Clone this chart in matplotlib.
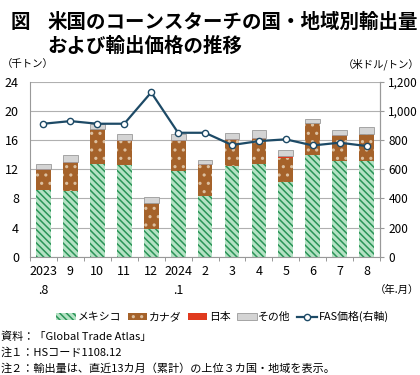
import numpy as np
import matplotlib
matplotlib.use("Agg")
from matplotlib import pyplot as plt
from matplotlib.ticker import FuncFormatter

plt.rcParams['font.family'] = ['Noto Sans CJK JP', 'DejaVu Sans']
plt.rcParams['hatch.linewidth'] = 1.1

# データ（千トン、米ドル/トン）
labels = ["2023\n.8", "9", "10", "11", "12", "2024\n.1", "2", "3", "4", "5", "6", "7", "8"]
mexico = [9.15, 9.05, 12.75, 12.53, 3.84, 11.8, 8.37, 12.43, 12.7, 10.24, 13.94, 13.12, 13.12]
canada = [2.75, 3.85, 4.71, 3.37, 3.47, 4.1, 4.2, 3.57, 3.44, 3.34, 4.35, 3.48, 3.66]
japan = [0.1, 0.1, 0.09, 0.15, 0.05, 0.15, 0.1, 0.14, 0.13, 0.22, 0.11, 0.1, 0.09]
other = [0.66, 0.94, 0.6, 0.85, 0.78, 0.75, 0.59, 0.86, 1.1, 0.9, 0.5, 0.63, 0.87]
price = [912, 930, 912, 912, 1127, 850, 850, 766, 793, 805, 763, 782, 759]

x = np.arange(len(labels))
w = 0.55
mexico = np.array(mexico)
canada = np.array(canada)
japan = np.array(japan)
other = np.array(other)

fig = plt.figure(figsize=(4.2, 3.75), dpi=100)
ax = fig.add_axes([0.0714, 0.3155, 0.8336, 0.4665])

b1 = ax.bar(x, mexico, w, color='#b4e2c4', edgecolor='#2a9457', hatch='\\\\\\\\\\', linewidth=0, label='メキシコ')
b2 = ax.bar(x, canada, w, bottom=mexico, color='#a5622a', edgecolor='#dcc0a0', hatch='..', linewidth=0, label='カナダ')
b3 = ax.bar(x, japan, w, bottom=mexico + canada, color='#e03a1e', linewidth=0, label='日本')
b4 = ax.bar(x, other, w, bottom=mexico + canada + japan, color='#d4d4d4', edgecolor='#9a9a9a', linewidth=0.6, label='その他')

ax.set_ylim(0, 24)
ax.set_yticks(np.arange(0, 25, 4))
ax.set_xlim(-0.5, len(labels) - 0.5)
ax.yaxis.grid(True, color='#b0b0b0', linewidth=0.8)
ax.set_axisbelow(True)
ax.set_xticks(x)
ax.set_xticklabels(labels, fontsize=9, linespacing=1.6, va='top')
ax.set_xticks(np.arange(-0.5, len(labels), 1), minor=True)
ax.tick_params(axis='x', which='major', length=0, pad=6)
ax.tick_params(axis='x', which='minor', length=3, color='#888888')
ax.tick_params(axis='y', length=0, labelsize=9, pad=8)
ax.spines['top'].set_visible(False)
for s in ['left', 'right', 'bottom']:
    ax.spines[s].set_color('#999999')

ax2 = ax.twinx()
ln, = ax2.plot(x, price, color='#1d4a66', linewidth=1.6, marker='o', markersize=4.5,
               markerfacecolor='white', markeredgecolor='#1d4a66', markeredgewidth=1.0, label='FAS価格(右軸)')
ax2.set_ylim(0, 1200)
ax2.set_yticks(np.arange(0, 1201, 200))
ax2.yaxis.set_major_formatter(FuncFormatter(lambda v, p: f"{int(v):,}"))
ax2.tick_params(axis='y', length=3, color='#999999', labelsize=8.5, pad=3)
ax2.spines['top'].set_visible(False)
ax2.spines['right'].set_color('#999999')
ax2.spines['left'].set_visible(False)
ax2.spines['bottom'].set_visible(False)

# タイトル・単位
fig.text(0.024, 0.965, "図", fontsize=14, fontweight='semibold', va='top')
fig.text(0.112, 0.965, "米国のコーンスターチの国・地域別輸出量\nおよび輸出価格の推移", fontsize=14,
         fontweight='semibold', va='top', linespacing=1.3)
fig.text(0.005, 0.83, "（千トン）", fontsize=7.5, va='center')
fig.text(0.998, 0.83, "（米ドル/トン）", fontsize=7.5, va='center', ha='right')
fig.text(0.998, 0.227, "（年.月）", fontsize=7.5, va='center', ha='right')

fig.legend(handles=[b1, b2, b3, b4, ln], loc='center', bbox_to_anchor=(0.53, 0.155), ncol=5,
           frameon=False, fontsize=7.8, handlelength=1.8, handleheight=0.55, handletextpad=0.15,
           columnspacing=0.6)

notes = ["資料：「Global Trade Atlas」", "注１：HSコード1108.12", "注２：輸出量は、直近13カ月（累計）の上位３カ国・地域を表示。"]
for i, t in enumerate(notes):
    fig.text(0.002, 0.102 - i * 0.042, t, fontsize=8, va='center')

fig.savefig("out.png", dpi=100)
